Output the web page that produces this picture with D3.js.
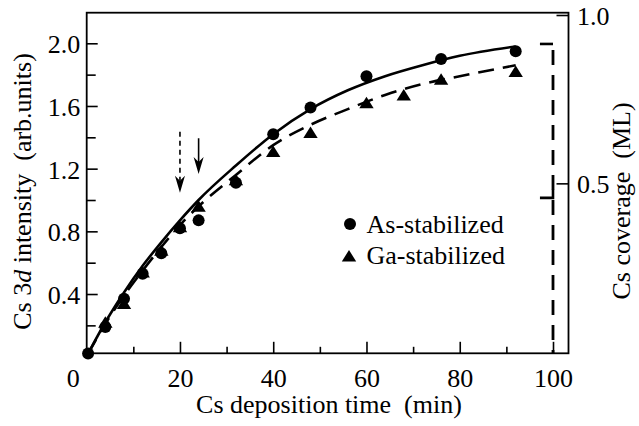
<!DOCTYPE html>
<html>
<head>
<meta charset="utf-8">
<script src="https://cdn.jsdelivr.net/npm/d3@7"></script>
</head>
<body style="margin:0">
<svg id="chart" width="639" height="426"></svg>
<script>
// ---- data ----
const asX = [0.3, 4, 8, 12, 16, 20, 24, 32, 40, 48, 60, 76, 92];
const asY = [0.02, 0.19, 0.37, 0.53, 0.66, 0.82, 0.87, 1.11, 1.42, 1.59, 1.79, 1.90, 1.95];
const gaX = [4, 8, 12, 16, 20, 24, 32, 40, 48, 60, 68, 76, 92];
const gaY = [0.22, 0.34, 0.54, 0.68, 0.83, 0.96, 1.13, 1.31, 1.43, 1.62, 1.67, 1.77, 1.82];
const fitAsX = [0.3, 4, 8, 12, 16, 20, 24, 32, 40, 48, 56, 64, 72, 80, 92];
const fitAsY = [0.02, 0.22, 0.41, 0.58, 0.73, 0.87, 1.00, 1.22, 1.42, 1.58, 1.70, 1.79, 1.86, 1.92, 1.98];
const fitGaX = [0.3, 4, 8, 12, 16, 20, 24, 32, 40, 48, 56, 64, 72, 80, 92];
const fitGaY = [0.02, 0.21, 0.39, 0.55, 0.70, 0.84, 0.96, 1.16, 1.35, 1.48, 1.58, 1.67, 1.74, 1.79, 1.86];
const xMajorTicks = [0, 20, 40, 60, 80, 100];
const xMinorTicks = [10, 30, 50, 70, 90];
const yMajorTicks = [0.4, 0.8, 1.2, 1.6, 2.0];
const yMinorTicks = [0.2, 0.6, 1.0, 1.4, 1.8];
const covTicks = [0.5, 1.0];
const arrowX = [20, 24];
const arrowTop = [1.436, 1.394];
const arrowTip = [1.047, 1.166];
const arrowDashed = [true, false];
const bracketX = [97.2, 100];
const bracketCov = [0.914, 0.457];
const seriesNames = ["As-stabilized", "Ga-stabilized"];

(function () {
const svg = d3.select("#chart");
const FONT = '"Liberation Serif"';
const FS = 26;
const txt = sel => sel.style("font-family", FONT).attr("font-size", FS).attr("fill", "#000");

// ---- layout ----
const mLeft = 86.7, mRight = 568.5, mTop = 12.7, mBottom = 353.3;
const x = d3.scaleLinear().domain([0, 100]).range([86.7, 553]);
const y = d3.scaleLinear().domain([0, 2]).range([356.7, 43.3]);
const yR = d3.scaleLinear().domain([0, 1]).range([351.7, 15]);

// frame
svg.append("rect").attr("x", mLeft).attr("y", mTop)
  .attr("width", mRight - mLeft).attr("height", mBottom - mTop)
  .attr("fill", "none").attr("stroke", "#000").attr("stroke-width", 1.8);

function styleAxis(g) {
  g.attr("font-family", null);
  g.select(".domain").remove();
  g.selectAll(".tick line").attr("stroke", "#000").attr("stroke-width", 1.6);
  g.selectAll(".tick text").call(txt);
}

// bottom axis
const gx = svg.append("g").attr("transform", `translate(0,${mBottom})`)
  .call(d3.axisBottom(x).tickValues(xMajorTicks).tickSize(-11.5).tickPadding(15)
    .tickFormat(d3.format("d")));
styleAxis(gx);
gx.selectAll(".tick").filter(d => d === 0).select("line").remove();
gx.selectAll(".tick").filter(d => d === 0).select("text").attr("dx", -14);
const gxm = svg.append("g").attr("transform", `translate(0,${mBottom})`)
  .call(d3.axisBottom(x).tickValues(xMinorTicks).tickSize(-6.5).tickFormat(""));
styleAxis(gxm);

// left axis
const gy = svg.append("g").attr("transform", `translate(${mLeft},0)`)
  .call(d3.axisLeft(y).tickValues(yMajorTicks).tickSize(-11).tickPadding(6.5)
    .tickFormat(d3.format(".1f")));
styleAxis(gy);
gy.selectAll(".tick text").attr("dy", "0.37em");
const gym = svg.append("g").attr("transform", `translate(${mLeft},0)`)
  .call(d3.axisLeft(y).tickValues(yMinorTicks).tickSize(-9).tickFormat(""));
styleAxis(gym);

// right axis
const gr = svg.append("g").attr("transform", `translate(${mRight},0)`)
  .call(d3.axisRight(yR).tickValues(covTicks).tickSize(-12).tickPadding(8.5)
    .tickFormat(d3.format(".1f")));
styleAxis(gr);
gr.selectAll(".tick text").attr("dy", "0.37em");

// axis titles
svg.append("text").attr("x", 329).attr("y", 413)
  .attr("text-anchor", "middle").call(txt)
  .attr("xml:space", "preserve").style("white-space", "pre")
  .text("Cs deposition time  (min)");

const yt = svg.append("text").attr("transform", "translate(30.5,191.5) rotate(-90)")
  .attr("text-anchor", "middle").call(txt)
  .attr("xml:space", "preserve").style("white-space", "pre");
yt.append("tspan").text("Cs 3");
yt.append("tspan").attr("font-style", "italic").text("d");
yt.append("tspan").text(" intensity  (arb.units)");

svg.append("text").attr("transform", "translate(630,201) rotate(-90)")
  .attr("text-anchor", "middle").call(txt)
  .attr("xml:space", "preserve").style("white-space", "pre")
  .text("Cs coverage  (ML)");

// fit curves
const line = d3.line().x(d => x(d[0])).y(d => y(d[1])).curve(d3.curveMonotoneX);
svg.append("path").datum(fitAsX.map((v, i) => [v, fitAsY[i]]))
  .attr("d", line).attr("fill", "none").attr("stroke", "#000").attr("stroke-width", 2.6);
svg.append("path").datum(fitGaX.map((v, i) => [v, fitGaY[i]]))
  .attr("d", line).attr("fill", "none").attr("stroke", "#000").attr("stroke-width", 2.6)
  .attr("stroke-dasharray", "16,9");

// markers
const circleR = 6;
const triPath = "M0,-6 L7.2,5.5 L-7.2,5.5 Z";
svg.append("g").selectAll("path").data(gaX.map((v, i) => [v, gaY[i]])).join("path")
  .attr("transform", d => `translate(${x(d[0])},${y(d[1])})`)
  .attr("d", triPath).attr("fill", "#000");
svg.append("g").selectAll("circle").data(asX.map((v, i) => [v, asY[i]])).join("circle")
  .attr("cx", d => x(d[0])).attr("cy", d => y(d[1])).attr("r", circleR).attr("fill", "#000");

// arrows
arrowX.forEach((ax, i) => {
  const px = x(ax), y0 = y(arrowTop[i]), y1 = y(arrowTip[i]);
  svg.append("line").attr("x1", px).attr("x2", px).attr("y1", y0).attr("y2", y1 - 12)
    .attr("stroke", "#000").attr("stroke-width", 1.6)
    .attr("stroke-dasharray", arrowDashed[i] ? "5,4" : null);
  svg.append("path").attr("transform", `translate(${px},${y1})`)
    .attr("d", "M0,0 L-5,-17 L0,-12 L5,-17 Z").attr("fill", "#000");
});

// bracket (coverage reference)
svg.append("path")
  .attr("d", `M${x(bracketX[0])},${yR(bracketCov[0])} L${x(bracketX[1])},${yR(bracketCov[0])}`)
  .attr("stroke", "#000").attr("stroke-width", 2.6).attr("fill", "none");
svg.append("path")
  .attr("d", `M${x(bracketX[1])},${yR(bracketCov[0])} L${x(bracketX[1])},${mBottom}`)
  .attr("stroke", "#000").attr("stroke-width", 2.8).attr("fill", "none")
  .attr("stroke-dasharray", "15,10").attr("stroke-dashoffset", -6);
svg.append("path")
  .attr("d", `M${x(bracketX[0])},${yR(bracketCov[1])} L${x(bracketX[1])},${yR(bracketCov[1])} L${x(bracketX[1])},${yR(bracketCov[1]) - 8}`)
  .attr("stroke", "#000").attr("stroke-width", 2.6).attr("fill", "none");

// legend
const lg = svg.append("g");
lg.append("circle").attr("cx", 350).attr("cy", 224).attr("r", circleR).attr("fill", "#000");
lg.append("path").attr("transform", "translate(349,256)").attr("d", triPath).attr("fill", "#000");
lg.append("text").attr("x", 366.5).attr("y", 232.5).call(txt).text(seriesNames[0]);
lg.append("text").attr("x", 366.5).attr("y", 263.5).call(txt).text(seriesNames[1]);
})();
</script>
</body>
</html>
